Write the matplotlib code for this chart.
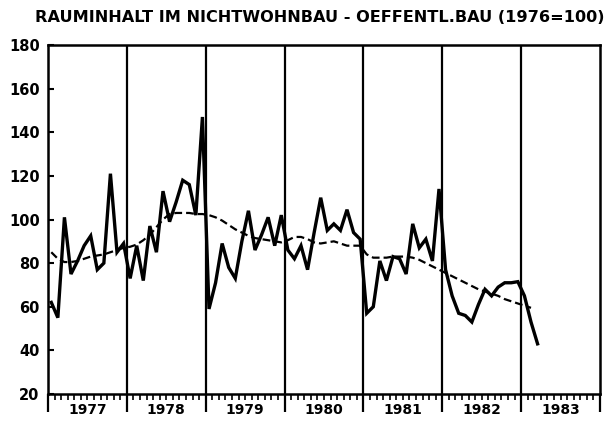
import numpy as np
import matplotlib
matplotlib.use("Agg")
import matplotlib.pyplot as plt
from matplotlib.transforms import blended_transform_factory

title = "RAUMINHALT IM NICHTWOHNBAU - OEFFENTL.BAU (1976=100)"
start_year = 1977
year_labels = ["1977", "1978", "1979", "1980", "1981", "1982", "1983"]
y_ticks = [20, 40, 60, 80, 100, 120, 140, 160, 180]

# monthly index values, Jan 1977 .. Mar 1983
index_values = [
    62, 55, 101, 75, 81, 88, 92.5, 77, 80, 121, 85, 89,          # 1977
    73, 88, 72, 97, 85, 113, 99, 108, 118, 116, 102, 147,         # 1978
    59, 71, 89, 78, 73, 90, 104, 86, 93, 101, 88, 102,            # 1979
    86, 82, 88, 77, 94, 110, 95, 98, 95, 104.5, 94, 91,           # 1980
    57, 60, 81, 72, 83, 82, 75, 98, 87, 91, 81, 114,              # 1981
    77, 65, 57, 56, 53, 61, 68, 65, 69, 71, 71, 71.5,             # 1982
    65, 53, 43,                                                   # 1983
]
# trend (dashed), Jan 1977 .. Feb 1983
trend_values = [
    85, 82, 80.5, 80.5, 81, 82, 83, 83.5, 84, 85, 86, 87,
    87.5, 88.5, 90.5, 93, 96.5, 100, 102.5, 103, 103, 103, 102.5, 102.5,
    102, 101, 99.5, 97.5, 95.5, 94, 92.5, 91.5, 91, 90.5, 90, 89.5,
    90.5, 92, 92, 91, 89.5, 89, 89.5, 90, 89, 88, 88, 88,
    84, 82.5, 82.5, 82.5, 83, 83, 83, 82.5, 81.5, 80, 78.5, 77,
    75.5, 74, 72.5, 71, 69.5, 68, 67, 66, 65, 63.5, 62.5, 61.5,
    60.5, 59.5,
]

def month_x(n):
    return start_year + (np.arange(n) + 0.5) / 12.0

W, H = 607, 428
fig = plt.figure(figsize=(W / 100, H / 100), dpi=100)
ax = fig.add_axes([48 / W, 1 - 394 / H, (600 - 48) / W, (394 - 45) / H])

ax.plot(month_x(len(index_values)), index_values, color="black", lw=2.4,
        solid_joinstyle="miter")
ax.plot(month_x(len(trend_values)), trend_values, color="black", lw=1.6,
        dashes=(3.5, 1.8))

end_year = start_year + len(year_labels)
ax.set_xlim(start_year, end_year)
ax.set_ylim(20, 180)

for yr in range(start_year + 1, end_year):
    ax.axvline(yr, color="black", lw=1.6)

for s in ax.spines.values():
    s.set_linewidth(1.8)

ax.set_yticks(y_ticks)
ax.set_yticklabels([str(v) for v in y_ticks], fontsize=10.5, fontweight="bold")
ax.tick_params(axis="y", direction="in", length=4, width=1.5, pad=6)

ax.set_xticks(list(range(start_year, end_year + 1)))
ax.set_xticklabels([])
ax.set_xticks(np.arange(start_year, end_year + 1e-9, 1 / 12), minor=True)
ax.tick_params(axis="x", which="major", direction="out", length=13, width=1.6)
ax.tick_params(axis="x", which="minor", direction="out", length=4.5, width=1.2)

trans = blended_transform_factory(ax.transData, ax.transAxes)
for i, lab in enumerate(year_labels):
    ax.text(start_year + i + 0.5, -0.025, lab, transform=trans, ha="center",
            va="top", fontsize=10, fontweight="bold")

fig.text(320 / W, 1 - 17 / H, title, ha="center", va="center",
         fontsize=11.6, fontweight="bold")

fig.savefig("out.png", dpi=100)
